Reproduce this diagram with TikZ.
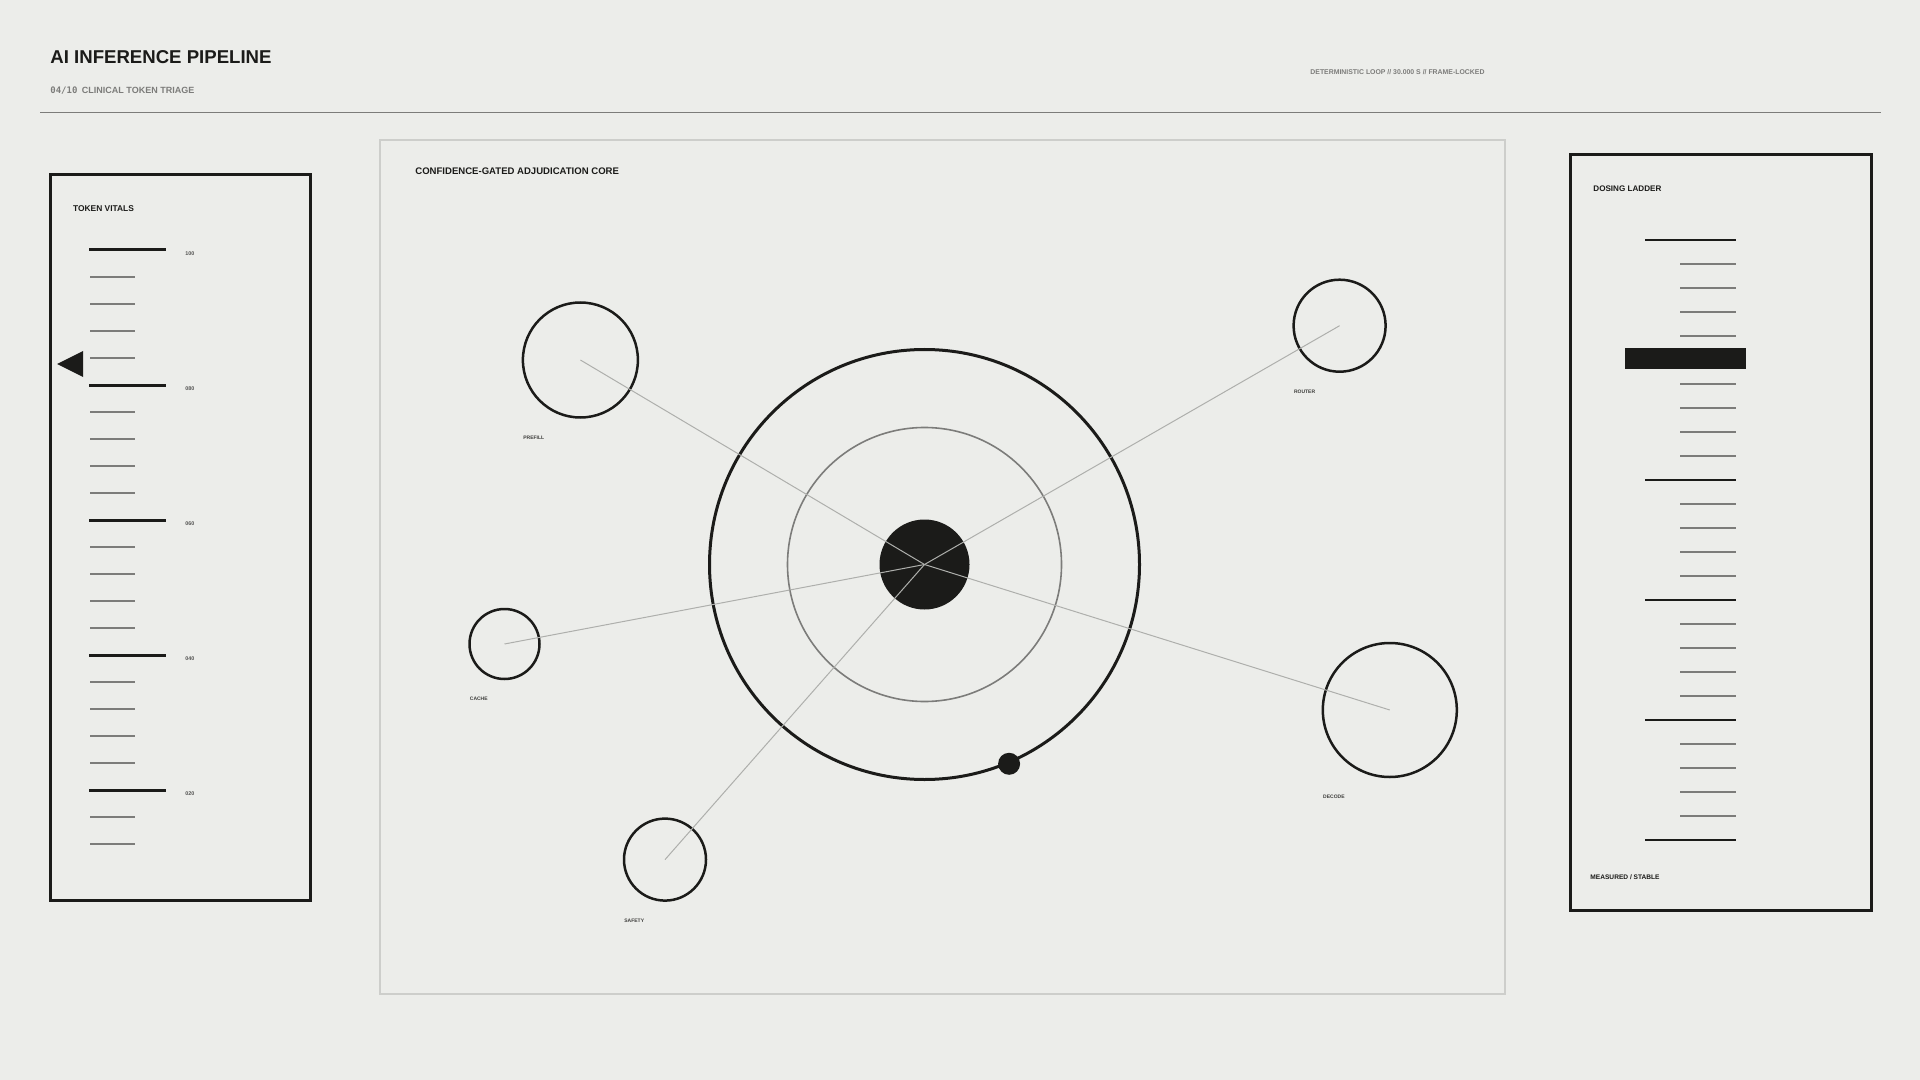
\documentclass[tikz,border=0pt]{standalone}
\usepackage{fontspec}
\setmainfont{Liberation Sans}
\newfontfamily\monofnt{DejaVu Sans Mono}
\definecolor{paper}{HTML}{ECEDEA}
\definecolor{ink}{HTML}{1B1B19}
\definecolor{wire}{HTML}{AEAFAC}
\definecolor{haze}{HTML}{7C7C7A}
\definecolor{frame}{HTML}{CDCECB}
\begin{document}
\begin{tikzpicture}[x=0.5pt,y=-0.5pt,
    txt/.style={anchor=west,inner sep=0pt,text=ink},
    paneltitle/.style={txt,font=\bfseries\fontsize{4.4}{5}\selectfont},
    sat/.style={circle,draw=ink,line width=1.25pt,inner sep=0pt},
    satlbl/.style={txt,font=\bfseries\fontsize{2.5}{3}\selectfont,text=ink!85},
    link/.style={draw=wire,line width=0.5pt},
    major/.style={ink,line width=1.5pt},
    minor/.style={haze,line width=0.7pt}]
\fill[paper] (0,0) rectangle (1920,1080);
\useasboundingbox (0,0) rectangle (1920,1080);

% header
\node[txt,font=\bfseries\fontsize{9.3}{10}\selectfont] (title) at (50,57.5) {AI INFERENCE PIPELINE};
\node[txt,font=\bfseries\fontsize{4.5}{5}\selectfont,text=haze] (subtitle) at (50,90.6) {{\monofnt 04/10}\hspace{0.5em}CLINICAL TOKEN TRIAGE};
\node[txt,font=\bfseries\fontsize{3.45}{4}\selectfont,text=haze] (loop) at (1310,72) {DETERMINISTIC LOOP // 30.000 S // FRAME-LOCKED};
\draw[haze,line width=0.75pt] (40,112.6) -- (1881,112.6);

% token vitals
\draw[ink,line width=1.5pt] (50,175) rectangle (310,900);
\node[paneltitle,font=\bfseries\fontsize{4.2}{5}\selectfont] (vitals) at (72.7,209) {TOKEN VITALS};
\foreach \i in {1,...,22} {
  \pgfmathtruncatemacro\r{mod(\i,5)}
  \ifnum\r>0 \draw[minor] (90,{250+27*\i}) -- (135,{250+27*\i}); \fi
}
\foreach \v [count=\k from 0] in {100,080,060,040,020} {
  \draw[major] (89,{250+135*\k}) -- (166,{250+135*\k});
  \node[txt,font=\bfseries\fontsize{2.7}{3}\selectfont,text=ink!75] (vlbl\k) at (185,{254+135*\k}) {\v};
}
\fill[ink] (57,364) -- (83,351) -- (83,377) -- cycle;

% adjudication core
\draw[frame,line width=0.6pt] (380,140) rectangle (1505,994);
\node[paneltitle,font=\bfseries\fontsize{4.78}{5}\selectfont] (coretitle) at (415,171.4) {CONFIDENCE-GATED ADJUDICATION CORE};
\node[circle,draw=ink,line width=1.5pt,minimum size=215pt,inner sep=0pt] (ring) at (924.5,564.5) {};
\node[circle,draw=haze,line width=0.8pt,minimum size=137pt,inner sep=0pt] (halo) at (924.5,564.5) {};
\node[circle,fill=ink,minimum size=45pt,inner sep=0pt] (core) at (924.5,564.5) {};
\foreach \n/\x/\y/\r/\t in {prefill/580.4/360/57.5/PREFILL, router/1339.6/325.7/46/ROUTER,
    cache/504.5/644/35/CACHE, decode/1389.8/710/67/DECODE, safety/665/859.6/41/SAFETY} {
  \node[sat,minimum size=\r pt] (\n) at (\x,\y) {};
  \draw[link] (\n.center) -- (core.center);
  \node[satlbl] (\n-lbl) at ({\x-\r},{\y+\r+20}) {\t};
}
\node[circle,fill=ink,minimum size=11pt,inner sep=0pt] (pulse) at (ring.-67.5) {};

% dosing ladder
\draw[ink,line width=1.5pt] (1570,155) rectangle (1871,910);
\node[paneltitle,font=\bfseries\fontsize{4.05}{5}\selectfont] (ladder) at (1593,189) {DOSING LADDER};
\foreach \i in {0,...,25} {
  \pgfmathtruncatemacro\r{mod(\i,5)}
  \ifnum\r=0 \draw[ink,line width=1pt] (1645,{240+24*\i}) -- (1736,{240+24*\i});
  \else \draw[haze,line width=0.6pt] (1680,{240+24*\i}) -- (1736,{240+24*\i}); \fi
}
\fill[ink] (1625,348) rectangle (1746,369);
\node[paneltitle,font=\bfseries\fontsize{3.3}{4}\selectfont] (stable) at (1590,877) {MEASURED / STABLE};
\end{tikzpicture}
\end{document}
